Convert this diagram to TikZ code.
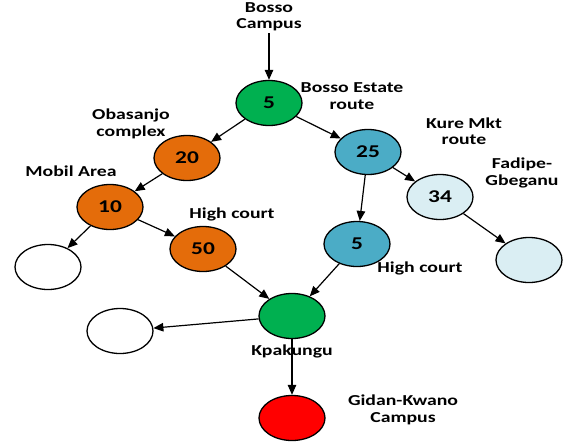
\documentclass[tikz,border=0pt]{standalone}
\usepackage{fontspec}
\setmainfont{Carlito}[FakeStretch=1.3]
\usetikzlibrary{arrows.meta,shapes.geometric}
\definecolor{cgreen}{HTML}{00B050}
\definecolor{corange}{HTML}{E46C0A}
\definecolor{cteal}{HTML}{4BACC6}
\definecolor{clight}{HTML}{DAEEF3}
\definecolor{cred}{HTML}{FF0000}
\begin{document}
\begin{tikzpicture}[x=1pt,y=-1pt,
  every node/.style={font=\fontsize{18}{20}\selectfont\bfseries},
  stop/.style={ellipse, draw=black, line width=1.3pt, minimum width=66pt, minimum height=45pt, inner sep=0pt},
  lbl/.style={align=center, font=\fontsize{15.2}{16.5}\selectfont\bfseries},
  conn/.style={line width=1.2pt, -{Triangle[length=10pt,width=8.5pt]}}]
\useasboundingbox (0,0) rectangle (567,447);
% stops
\node[stop, fill=cgreen] (a) at (269,103) {5};
\node[stop, fill=corange] (b) at (187,158) {20};
\node[stop, fill=corange] (c) at (110,207) {10};
\node[stop, fill=white] (d) at (48,267) {};
\node[stop, fill=corange] (e) at (203,249) {50};
\node[stop, fill=cteal] (f) at (368,152) {25};
\node[stop, fill=clight] (g) at (440,197) {34};
\node[stop, fill=clight] (h) at (529,260) {};
\node[stop, fill=cteal] (i) at (357,244) {5};
\node[stop, fill=cgreen] (k) at (292,316) {};
\node[stop, fill=white] (l) at (120,331) {};
\node[stop, fill=cred] (m) at (292,418) {};
% labels
\node[lbl] (t1) at (269,17) {Bosso\\Campus};
\node[lbl] (t2) at (352,96) {Bosso Estate\\route};
\node[lbl] (t3) at (131,124) {Obasanjo\\complex};
\node[lbl] (t4) at (71,171) {Mobil Area};
\node[lbl] (t5) at (232,214) {High court};
\node[lbl] (t6) at (464,131) {Kure Mkt\\route};
\node[lbl] (t7) at (522,173) {Fadipe-\\Gbeganu};
\node[lbl] (t8) at (420,268) {High court};
\node[lbl] (t9) at (292,351) {Kpakungu};
\node[lbl] (t10) at (403,410) {Gidan-Kwano\\Campus};
\coordinate (s) at (269,33);
% connectors
\draw[conn] (s) -- (a);
\draw[conn] (a) -- (b);
\draw[conn] (a) -- (f);
\draw[conn] (b) -- (c);
\draw[conn] (c) -- (d);
\draw[conn] (c) -- (e);
\draw[conn] (e) -- (k);
\draw[conn] (f) -- (g);
\draw[conn] (f) -- (i);
\draw[conn] (g) -- (h);
\draw[conn] (i) -- (k);
\draw[conn] (k) -- (l);
\draw[conn] (k) -- (m);
\end{tikzpicture}
\end{document}
